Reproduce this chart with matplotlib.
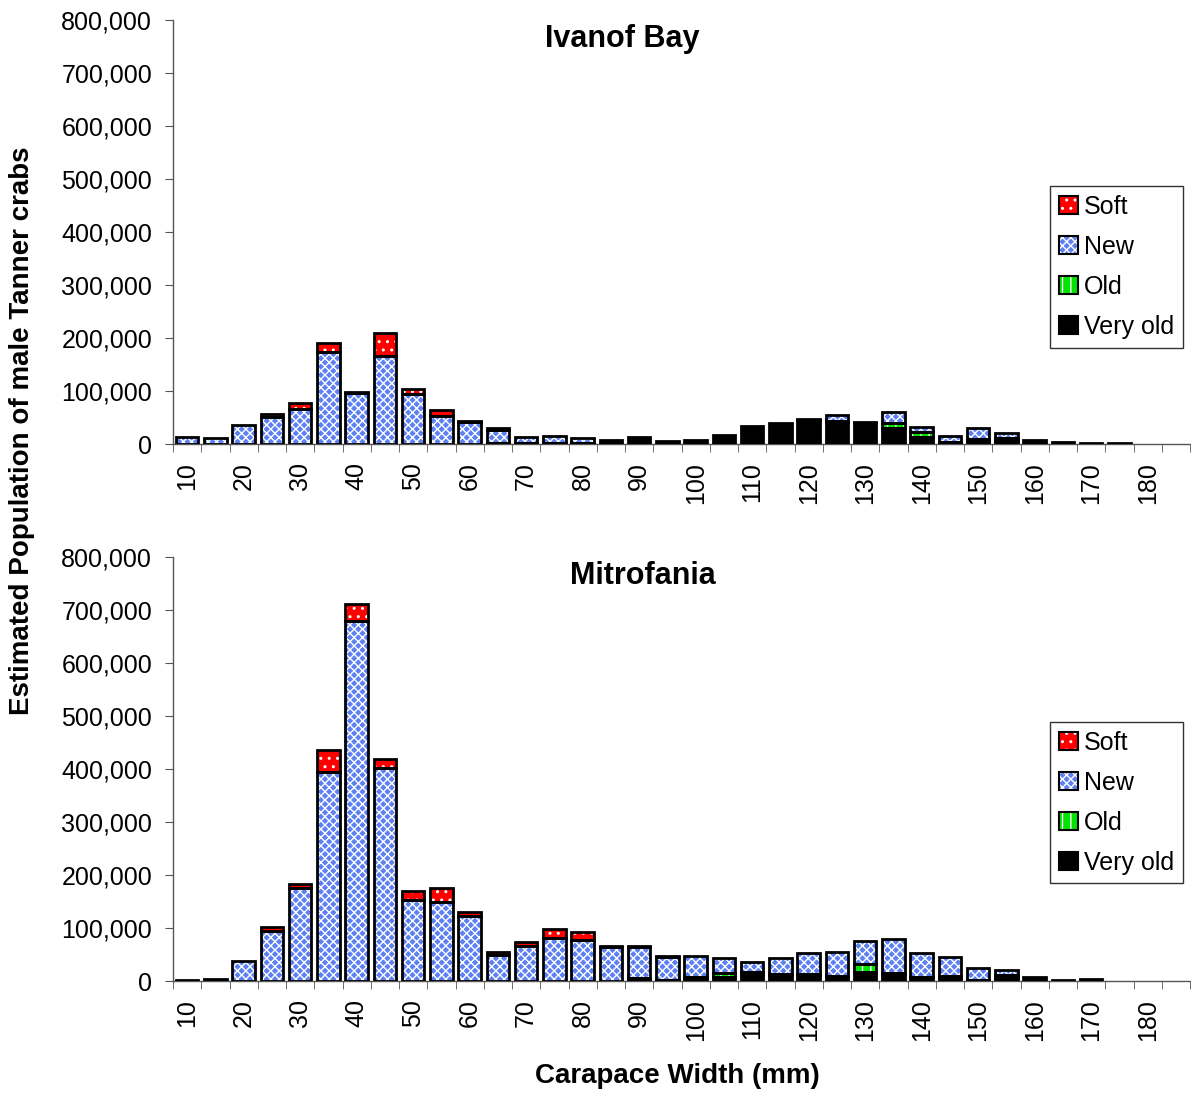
import numpy as np
import matplotlib
matplotlib.use("Agg")
import matplotlib.pyplot as plt
from matplotlib.patches import Patch
from matplotlib.ticker import FuncFormatter

plt.rcParams['font.family'] = ['Liberation Sans', 'DejaVu Sans']
plt.rcParams['hatch.linewidth'] = 1.0

# carapace width classes (mm)
widths = list(range(10, 190, 5))

# Ivanof Bay, thousands of crabs per shell condition
ivanof_very_old = [0, 0, 0, 0, 0, 0, 0, 0, 0, 0, 0, 2, 1.6, 2, 2, 8, 13, 6,
                   8, 17, 34, 40, 45, 42, 39, 31, 14, 3, 5, 5, 8, 3, 1.5, 1, 0, 0]
ivanof_old = [0, 0, 0, 0, 0, 0, 0, 0, 0, 0, 0, 0, 0, 0, 0, 0, 0, 0,
              0, 0, 0, 0, 0, 2, 0, 8, 8, 0, 4, 7, 0, 0, 0, 0, 0, 0]
ivanof_new = [13, 11, 36, 51, 66, 174, 96, 167, 94, 52, 41, 25, 11, 14, 9, 0, 0, 0,
              0, 0, 0, 0, 2, 11, 3, 21, 11, 13, 21, 8, 0, 0, 0, 0, 0, 0]
ivanof_soft = [0, 0, 0, 5, 11, 16, 1.5, 43, 10, 12, 3, 3, 0, 0, 0, 0, 0, 0,
               0, 0, 0, 0, 0, 0, 0, 0, 0, 0, 0, 0, 0, 0, 0, 0, 0, 0]

# Mitrofania
mitro_very_old = [1, 4, 0, 0, 0, 0, 0, 0, 0, 0, 0, 0, 0, 0, 0, 0, 4, 2,
                  5, 8, 12, 11, 11, 10, 17, 13, 8, 7, 2, 5, 8, 2, 3, 0, 0, 0]
mitro_old = [0, 0, 0, 0, 0, 0, 0, 0, 0, 0, 0, 0, 0, 0, 0, 0, 2, 0,
             2, 8, 5, 2, 2, 0, 16, 3, 0, 2, 0, 6, 0, 0, 0, 0, 0, 0]
mitro_new = [0, 0, 38, 94, 175, 394, 680, 402, 153, 150, 122, 49, 67, 82, 77, 64, 59, 44,
             40, 27, 19, 31, 39, 44, 42, 63, 44, 36, 23, 10, 0, 0, 0, 0, 0, 0]
mitro_soft = [0, 0, 0, 8, 8, 42, 32, 16, 17, 25, 9, 5, 6, 17, 16, 3, 2, 2,
              0, 0, 0, 0, 0, 0, 0, 0, 0, 0, 0, 0, 0, 0, 0, 0, 0, 0]

series_names = ['Very old', 'Old', 'New', 'Soft']
fills = {'Very old': ('black', None),
         'Old': ('#00e400', '||'),
         'New': ('#5d80f2', 'xxxx'),
         'Soft': ('#ff0000', '..')}


def draw_panel(ax, layers, title, title_x, legend_y):
    x = np.arange(len(widths))
    bottom = np.zeros(len(widths))
    for name, vals in zip(series_names, layers):
        vals = np.array(vals) * 1000
        fc, hatch = fills[name]
        ax.bar(x, vals, 0.8, bottom=bottom, color=fc, hatch=hatch,
               edgecolor='white', linewidth=0, zorder=2)
        m = vals > 0
        ax.bar(x[m], vals[m], 0.8, bottom=bottom[m], fill=False,
               edgecolor='black', linewidth=2, zorder=3)
        bottom = bottom + vals

    ax.set_xlim(-0.5, len(widths) - 0.5)
    ax.set_ylim(0, 800000)
    ax.set_yticks(np.arange(0, 800001, 100000))
    ax.yaxis.set_major_formatter(FuncFormatter(lambda v, p: f'{int(v):,}'))
    ax.set_xticks(x[::2])
    ax.set_xticklabels([str(w) for w in widths[::2]], rotation=90)
    ax.set_xticks(np.arange(-0.5, len(widths)), minor=True)
    ax.tick_params(axis='x', which='major', length=0, pad=13, labelsize=18)
    ax.tick_params(axis='x', which='minor', length=6, color='#555555', direction='out')
    ax.tick_params(axis='y', length=6, pad=9, labelsize=18, color='#555555')
    for s in ['top', 'right']:
        ax.spines[s].set_visible(False)
    for s in ['left', 'bottom']:
        ax.spines[s].set_color('#555555')
        ax.spines[s].set_linewidth(1)
    ax.text(title_x, 0.936, title, transform=ax.transAxes, ha='center',
            va='baseline', fontsize=22, fontweight='bold')

    handles = []
    for name in series_names[::-1]:
        fc, hatch = fills[name]
        handles.append((Patch(facecolor=fc, hatch=hatch, edgecolor='white', linewidth=0),
                        Patch(fill=False, edgecolor='black', linewidth=1.5)))
    leg = ax.legend(handles, series_names[::-1], loc='upper right',
                    bbox_to_anchor=(0.993, legend_y), fontsize=18, frameon=True,
                    fancybox=False, edgecolor='black', handlelength=0.75,
                    handleheight=0.75, handletextpad=0.25, labelspacing=0.64,
                    borderpad=0.35, borderaxespad=0)
    leg.get_frame().set_linewidth(1)


fig = plt.figure(figsize=(11.91, 10.95), dpi=100)
ax1 = fig.add_axes([0.1453, 0.5945, 0.8539, 0.3872])
ax2 = fig.add_axes([0.1453, 0.1041, 0.8539, 0.3872])

draw_panel(ax1, [ivanof_very_old, ivanof_old, ivanof_new, ivanof_soft],
           'Ivanof Bay', 0.442, 0.608)
draw_panel(ax2, [mitro_very_old, mitro_old, mitro_new, mitro_soft],
           'Mitrofania', 0.462, 0.611)

fig.text(0.0185, 0.607, 'Estimated Population of male Tanner crabs', rotation=90,
         ha='center', va='center', fontsize=20, fontweight='bold')
fig.text(0.569, 0.011, 'Carapace Width (mm)', ha='center', va='baseline',
         fontsize=20, fontweight='bold')

fig.savefig('out.png', dpi=100)
